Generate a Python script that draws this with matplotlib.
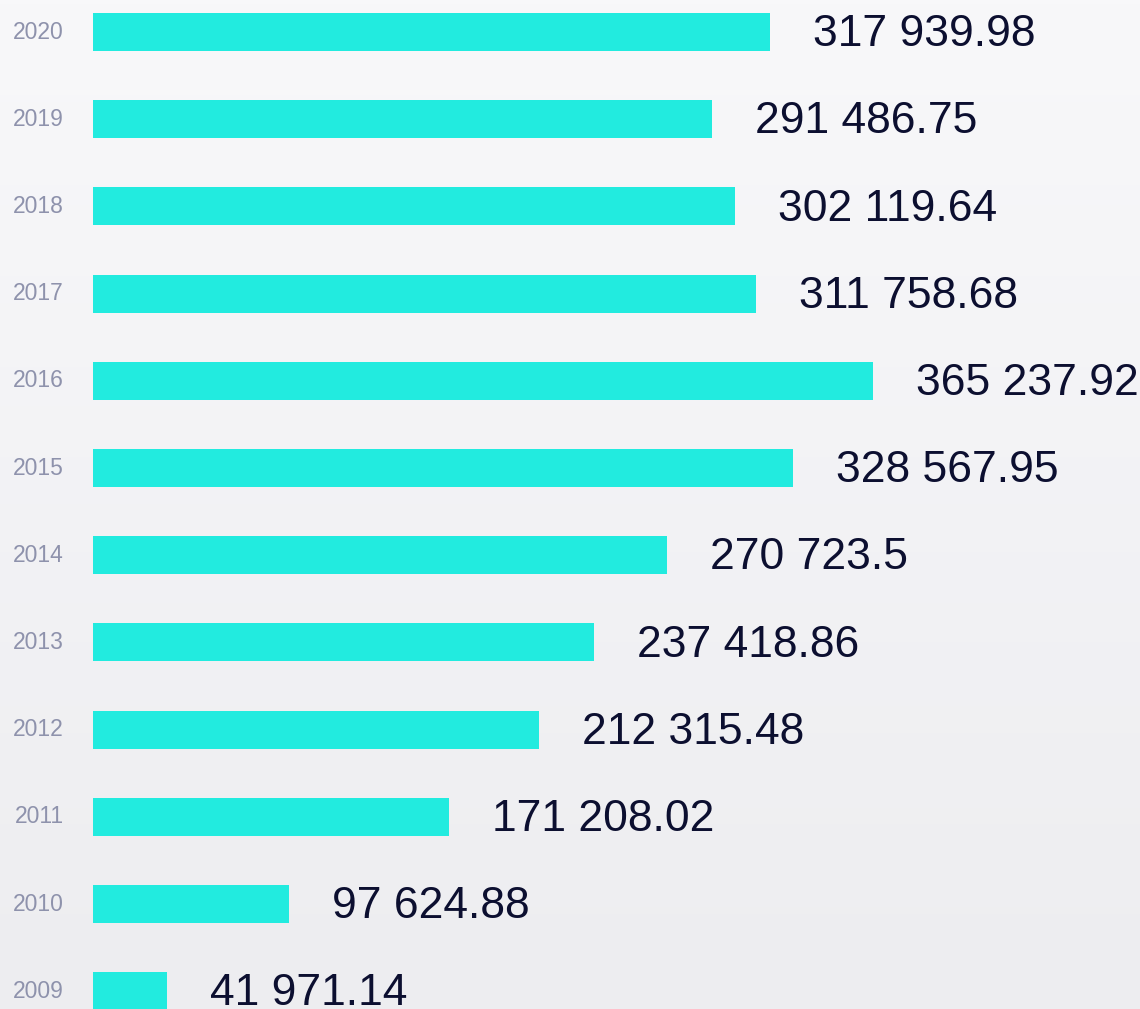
import numpy as np
import matplotlib
matplotlib.use("Agg")
import matplotlib.pyplot as plt
from matplotlib.colors import LinearSegmentedColormap

years = ["2009", "2010", "2011", "2012", "2013", "2014",
         "2015", "2016", "2017", "2018", "2019", "2020"]
values = [41971.14, 97624.88, 171208.02, 212315.48, 237418.86, 270723.5,
          328567.95, 365237.92, 311758.68, 302119.64, 291486.75, 317939.98]
labels = ["41 971.14", "97 624.88", "171 208.02", "212 315.48", "237 418.86", "270 723.5",
          "328 567.95", "365 237.92", "311 758.68", "302 119.64", "291 486.75", "317 939.98"]

bar_color = "#22EBDF"
year_color = "#8E92AC"
text_color = "#0C0F30"

fig = plt.figure(figsize=(11.4, 10.09), dpi=100)

# background gradient
bg = fig.add_axes([0, 0, 1, 1], zorder=0)
grad = np.linspace(0, 1, 256).reshape(-1, 1)
cmap = LinearSegmentedColormap.from_list("bg", ["#F8F8FA", "#EDEDF0"])
bg.imshow(grad, aspect="auto", cmap=cmap, extent=[0, 1, 0, 1])
bg.axis("off")

ax = fig.add_axes([93 / 1140, 0, 1 - 93 / 1140, 1], zorder=1)
ax.patch.set_alpha(0)
y = np.arange(len(years))
ax.barh(y, values, height=0.436, color=bar_color, left=0)

ax.set_xlim(8100, 8100 + 1047 / 0.002184)
ax.set_ylim(-0.204, 11.367)

for yi, v, lab in zip(y, values, labels):
    ax.annotate(lab, (v, yi), xytext=(31, -2), textcoords="offset points",
                ha="left", va="center", fontsize=32, color=text_color,
                family="Liberation Sans", annotation_clip=False)

ax.set_yticks(y)
ax.set_yticklabels(years, fontsize=16.5, color=year_color, family="Liberation Sans",
                   va="center")
ax.tick_params(axis="y", length=0, pad=21)
for t in ax.get_yticklabels():
    t.set_y(t.get_position()[1])
ax.set_xticks([])
for s in ax.spines.values():
    s.set_visible(False)

fig.savefig("out.png", dpi=100)
